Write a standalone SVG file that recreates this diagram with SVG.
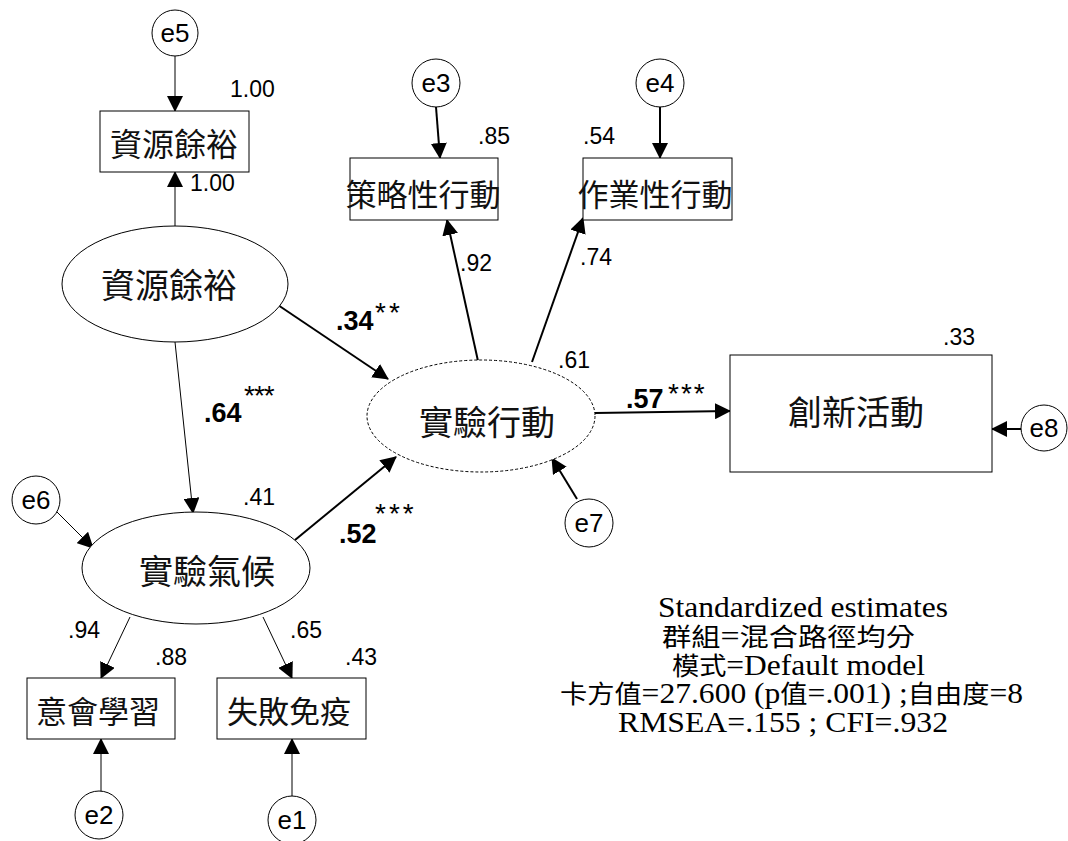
<svg xmlns="http://www.w3.org/2000/svg" width="1068" height="841" viewBox="0 0 1068 841">
<defs>
<marker id="ah" markerUnits="userSpaceOnUse" markerWidth="16" markerHeight="16" refX="15" refY="8" orient="auto">
<path d="M0,0 L16,8 L0,16 z" fill="#000"/>
</marker>
</defs>
<style>
.bx{fill:#fff;stroke:#000;stroke-width:1}
.el{fill:#fff;stroke:#000;stroke-width:1}
.ci{fill:#fff;stroke:#000;stroke-width:1}
.cjk{font-family:"Noto Sans CJK TC","Noto Sans CJK SC",sans-serif;fill:#111;text-anchor:middle}
.num{font-family:"Liberation Sans",Arial,sans-serif;font-size:23px;fill:#000}
.bold{font-family:"Liberation Sans",Arial,sans-serif;font-size:27px;font-weight:bold;fill:#000}
.star{font-family:"Liberation Sans",Arial,sans-serif;font-size:28px;fill:#000}
.el-t{font-family:"Liberation Sans",Arial,sans-serif;font-size:26px;fill:#000;text-anchor:middle}
.note{font-family:"Liberation Serif","Times New Roman","Noto Sans CJK TC",serif;font-size:29px;fill:#000}
.nc{font-family:"Noto Sans CJK TC","Noto Sans CJK SC",serif;font-size:25px}
.thin{stroke:#000;stroke-width:1;fill:none;marker-end:url(#ah)}
.thick{stroke:#000;stroke-width:2;fill:none;marker-end:url(#ah)}
</style>
<rect width="1068" height="841" fill="#fff"/>

<g id="connectors">
<line class="thin" x1="175" y1="56" x2="175" y2="111"/>
<line class="thin" x1="175" y1="226" x2="175" y2="172"/>
<line class="thick" x1="436" y1="107" x2="440" y2="158"/>
<line class="thick" x1="660" y1="107" x2="660" y2="158"/>
<line class="thick" x1="478" y1="361" x2="447" y2="220"/>
<line class="thick" x1="532" y1="362" x2="583" y2="218"/>
<line class="thick" x1="275" y1="303" x2="388" y2="379"/>
<line class="thin" x1="175" y1="342" x2="193" y2="513"/>
<line class="thick" x1="295" y1="540" x2="396" y2="457"/>
<line class="thin" x1="54" y1="509" x2="93" y2="548"/>
<line class="thick" x1="577" y1="499" x2="552" y2="458"/>
<line class="thick" x1="595" y1="413" x2="730" y2="411"/>
<line class="thick" x1="1021" y1="429" x2="992" y2="429"/>
<line class="thin" x1="130" y1="617" x2="101" y2="678"/>
<line class="thin" x1="263" y1="617" x2="292" y2="678"/>
<line class="thin" x1="101" y1="792" x2="101" y2="739"/>
<line class="thin" x1="292" y1="797" x2="292" y2="739"/>
</g>

<g id="e5"><circle class="ci" cx="175" cy="33" r="23"/><text class="el-t" x="175" y="42">e5</text></g>
<g id="e3"><circle class="ci" cx="436" cy="83" r="24"/><text class="el-t" x="436" y="92">e3</text></g>
<g id="e4"><circle class="ci" cx="660" cy="83" r="24"/><text class="el-t" x="660" y="92">e4</text></g>
<g id="e6"><circle class="ci" cx="36" cy="500" r="24"/><text class="el-t" x="36" y="509">e6</text></g>
<g id="e7"><circle class="ci" cx="589" cy="523" r="24"/><text class="el-t" x="589" y="532">e7</text></g>
<g id="e8"><circle class="ci" cx="1044" cy="428" r="23"/><text class="el-t" x="1044" y="437">e8</text></g>
<g id="e2"><circle class="ci" cx="99" cy="815" r="24"/><text class="el-t" x="99" y="824">e2</text></g>
<g id="e1"><circle class="ci" cx="292" cy="820" r="24"/><text class="el-t" x="292" y="829">e1</text></g>

<g id="box_resource"><rect class="bx" x="100" y="111" width="149" height="61"/><text class="cjk" x="174" y="156" font-size="32">資源餘裕</text></g>
<g id="box_strategic"><rect class="bx" x="350" y="158" width="148" height="62"/><text class="cjk" x="423" y="206" font-size="31">策略性行動</text></g>
<g id="box_operational"><rect class="bx" x="583" y="158" width="149" height="62"/><text class="cjk" x="655" y="206" font-size="31">作業性行動</text></g>
<g id="box_innovation"><rect class="bx" x="730" y="355" width="262" height="117"/><text class="cjk" x="856" y="425" font-size="34">創新活動</text></g>
<g id="box_learning"><rect class="bx" x="27" y="678" width="148" height="61"/><text class="cjk" x="98" y="723" font-size="31">意會學習</text></g>
<g id="box_immunity"><rect class="bx" x="217" y="678" width="149" height="61"/><text class="cjk" x="289" y="723" font-size="31">失敗免疫</text></g>

<g id="lat_resource"><ellipse class="el" cx="175" cy="284" rx="113" ry="58"/><text class="cjk" x="169" y="298" font-size="34">資源餘裕</text></g>
<g id="lat_action"><ellipse class="el" cx="481" cy="416" rx="114" ry="56" stroke-dasharray="3,2"/><text class="cjk" x="487" y="435" font-size="34">實驗行動</text></g>
<g id="lat_climate"><ellipse class="el" cx="196" cy="568" rx="114" ry="56"/><text class="cjk" x="207" y="584" font-size="34">實驗氣候</text></g>

<g id="labels">
<text class="num" x="230" y="97">1.00</text>
<text class="num" x="190" y="191">1.00</text>
<text class="num" x="478" y="144">.85</text>
<text class="num" x="583" y="144">.54</text>
<text class="num" x="460" y="271">.92</text>
<text class="num" x="580" y="265">.74</text>
<text class="num" x="558" y="368">.61</text>
<text class="num" x="943" y="345">.33</text>
<text class="num" x="243" y="505">.41</text>
<text class="num" x="68" y="638">.94</text>
<text class="num" x="290" y="638">.65</text>
<text class="num" x="155" y="665">.88</text>
<text class="num" x="345" y="665">.43</text>
<text class="bold" x="336" y="330">.34</text><text class="star" x="375" y="322" letter-spacing="3">**</text>
<text class="bold" x="204" y="422">.64</text><text class="star" x="244" y="405" letter-spacing="-1">***</text>
<text class="bold" x="339" y="543">.52</text><text class="star" x="375" y="523" letter-spacing="3">***</text>
<text class="bold" x="626" y="408">.57</text><text class="star" x="668" y="403" letter-spacing="2">***</text>
</g>

<g id="note">
<text class="note" x="658" y="617" textLength="290" lengthAdjust="spacingAndGlyphs">Standardized estimates</text>
<text class="note" x="662" y="646" textLength="253" lengthAdjust="spacingAndGlyphs"><tspan class="nc">群組</tspan>=<tspan class="nc">混合路徑均分</tspan></text>
<text class="note" x="672" y="675" textLength="253" lengthAdjust="spacingAndGlyphs"><tspan class="nc">模式</tspan>=Default model</text>
<text class="note" x="560" y="703" textLength="463" lengthAdjust="spacingAndGlyphs"><tspan class="nc">卡方值</tspan>=27.600 (p<tspan class="nc">值</tspan>=.001) ;<tspan class="nc">自由度</tspan>=8</text>
<text class="note" x="618" y="732" textLength="330" lengthAdjust="spacingAndGlyphs">RMSEA=.155 ; CFI=.932</text>
</g>
</svg>
